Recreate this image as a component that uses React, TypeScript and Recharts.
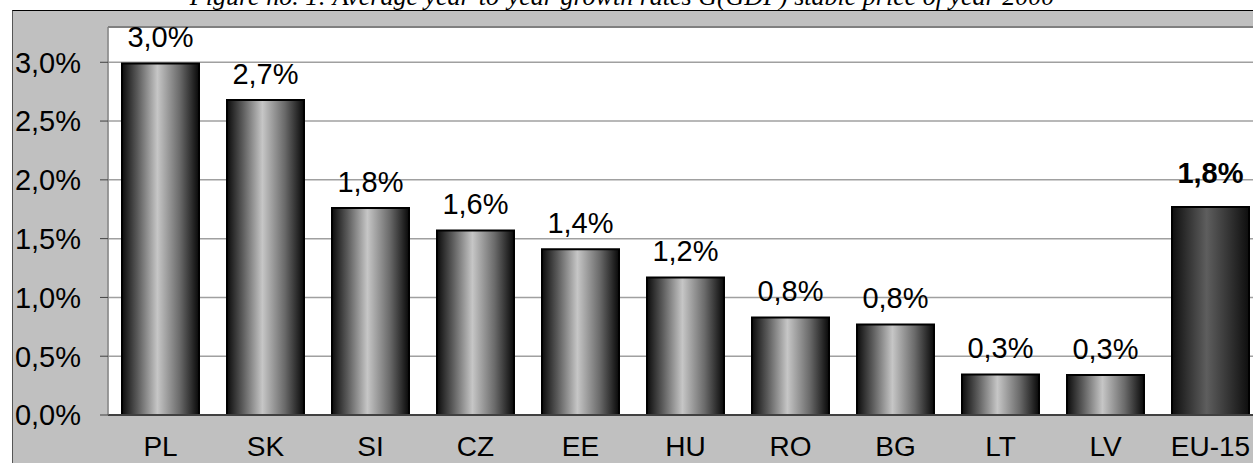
import React from 'react';
import { BarChart, Bar, XAxis, YAxis, CartesianGrid, LabelList, Cell, ReferenceLine } from 'recharts';

const TITLE = 'Figure no. 1: Average year-to-year growth rates G(GDP) stable price of year 2000';

// country codes along the x axis
const countries = ['PL', 'SK', 'SI', 'CZ', 'EE', 'HU', 'RO', 'BG', 'LT', 'LV', 'EU-15'];
// average growth in %
const growth = [2.99, 2.68, 1.76, 1.57, 1.41, 1.17, 0.83, 0.77, 0.345, 0.34, 1.77];
const yTicks = [0, 0.5, 1.0, 1.5, 2.0, 2.5, 3.0];
const Y_MAX = 3.3;
// category boundaries, used for the vertical grid and the tick marks
const boundaries = countries.map((_, i) => i).concat(countries.length);

const data = countries.map((c, i) => ({ country: c, value: growth[i] }));

const FONT = "'Liberation Sans', Arial, sans-serif";
const fmt = (v: number) => v.toFixed(1).replace('.', ',') + '%';

const BarLabel = (props: any) => {
  const { x, y, width, value, index } = props;
  const eu = countries[index] === 'EU-15';
  return (
    <text
      x={Number(x) + Number(width) / 2}
      y={Number(y) - (eu ? 24 : 16)}
      textAnchor="middle"
      fontFamily={FONT}
      fontSize={29}
      fontWeight={eu ? 'bold' : 'normal'}
      fill="#000"
    >
      {fmt(Number(value))}
    </text>
  );
};

export default function App() {
  return (
    <div style={{ position: 'fixed', left: 0, top: 0, width: 1253, height: 463, overflow: 'hidden', background: '#fff' }}>
      {/* chart area background */}
      <div
        style={{
          position: 'absolute',
          left: 12,
          top: 10,
          width: 1300,
          height: 500,
          background: '#c0c0c0',
          borderTop: '1px solid #000',
          borderLeft: '1px solid #555',
          boxSizing: 'border-box',
        }}
      />
      <svg style={{ position: 'absolute', left: 0, top: 0 }} width={1253} height={12}>
        <text x={622} y={5} textAnchor="middle" fontFamily="'Liberation Serif', 'Times New Roman', serif" fontStyle="italic" fontSize={26} fill="#000">
          {TITLE}
        </text>
      </svg>
      <div style={{ position: 'absolute', left: 0, top: 0 }}>
        <BarChart width={1275} height={463} data={data} margin={{ top: 27, right: 12, bottom: 0, left: 0 }} barSize={77}>
          <defs>
            <linearGradient id="barGrad" x1="0" y1="0" x2="1" y2="0">
              <stop offset="0%" stopColor="#0c0c0c" />
              <stop offset="20%" stopColor="#5a5a5a" />
              <stop offset="46%" stopColor="#c6c6c6" />
              <stop offset="75%" stopColor="#6a6a6a" />
              <stop offset="100%" stopColor="#080808" />
            </linearGradient>
            <linearGradient id="euGrad" x1="0" y1="0" x2="1" y2="0">
              <stop offset="0%" stopColor="#0e0e0e" />
              <stop offset="45%" stopColor="#5e5e5e" />
              <stop offset="100%" stopColor="#0e0e0e" />
            </linearGradient>
          </defs>
          <XAxis
            xAxisId="grid"
            type="number"
            domain={[0, countries.length]}
            ticks={boundaries}
            tick={false}
            tickSize={7}
            tickLine={{ stroke: '#404040', strokeWidth: 1 }}
            axisLine={false}
            height={0}
            allowDataOverflow
          />
          <XAxis
            dataKey="country"
            tickLine={false}
            tickSize={0}
            tickMargin={21}
            height={48}
            axisLine={{ stroke: '#404040', strokeWidth: 2 }}
            tick={{ fontSize: 28, fill: '#000', fontFamily: FONT }}
            interval={0}
          />
          <YAxis
            type="number"
            domain={[0, Y_MAX]}
            ticks={yTicks}
            width={108}
            tickSize={8}
            tickMargin={19}
            tickFormatter={fmt}
            allowDataOverflow
            axisLine={{ stroke: '#808080', strokeWidth: 1 }}
            tickLine={{ stroke: '#404040', strokeWidth: 1 }}
            tick={{ fontSize: 29, fill: '#000', fontFamily: FONT }}
          />
          <CartesianGrid xAxisId="grid" fill="#fff" stroke="#a0a0a0" strokeWidth={1.5} />
          <ReferenceLine y={Y_MAX} stroke="#808080" strokeWidth={2} ifOverflow="visible" />
          <Bar dataKey="value" stroke="#000" strokeWidth={2} isAnimationActive={false}>
            {data.map((d) => (
              <Cell key={d.country} fill={d.country === 'EU-15' ? 'url(#euGrad)' : 'url(#barGrad)'} />
            ))}
            <LabelList dataKey="value" content={BarLabel} />
          </Bar>
        </BarChart>
      </div>
    </div>
  );
}
